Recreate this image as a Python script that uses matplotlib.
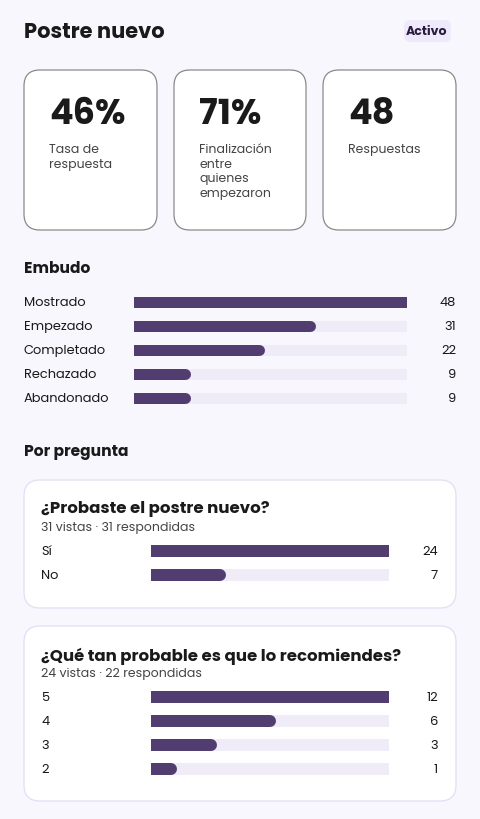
import matplotlib
matplotlib.use("Agg")
import matplotlib.pyplot as plt
from matplotlib.patches import FancyBboxPatch

plt.rcParams['font.family'] = ['Poppins', 'Lato', 'DejaVu Sans']

title = "Postre nuevo"
badge = "Activo"
stat_values = ["46%", "71%", "48"]
stat_labels = ["Tasa de\nrespuesta", "Finalización\nentre\nquienes\nempezaron", "Respuestas"]
funnel_labels = ["Mostrado", "Empezado", "Completado", "Rechazado", "Abandonado"]
funnel_values = [48, 31, 22, 9, 9]
q1_title = "¿Probaste el postre nuevo?"
q1_sub = "31 vistas · 31 respondidas"
q1_labels = ["Sí", "No"]
q1_values = [24, 7]
q2_title = "¿Qué tan probable es que lo recomiendes?"
q2_sub = "24 vistas · 22 respondidas"
q2_labels = ["5", "4", "3", "2"]
q2_values = [12, 6, 3, 1]

W, H = 480, 820
BG = "#f8f7fd"; BAR = "#523d70"; TRACK = "#efecf8"; DARK = "#1a1a1a"; GREY = "#444444"
fig = plt.figure(figsize=(W/100, H/100), dpi=100, facecolor=BG)
ax = fig.add_axes([0, 0, 1, 1]); ax.set_xlim(0, W); ax.set_ylim(H, 0); ax.axis('off')
px = lambda v: v*0.72

def card(x0, y0, x1, y1, r, ec, lw=0.9):
    ax.add_patch(FancyBboxPatch((x0+r, y0+r), x1-x0-2*r, y1-y0-2*r,
                 boxstyle=f"round,pad={r}", fc="white", ec=ec, lw=lw))

ax.text(24, 33, title, fontsize=px(21), fontweight='bold', color=DARK, va='center')
ax.add_patch(FancyBboxPatch((410, 27), 35, 10, boxstyle="round,pad=6", fc="#eeeafa", ec="none"))
ax.text(427, 32, badge, fontsize=px(12.5), fontweight='bold', color="#2a1c40", ha='center', va='center')

for i, (xs, xe) in enumerate([(24, 157), (174, 306), (323, 456)]):
    card(xs, 71, xe, 231, 16, "#8a8a8a")
    ax.text(xs+25, 116, stat_values[i], fontsize=px(35), fontweight='bold', color=DARK, va='center')
    ax.text(xs+25, 144, stat_labels[i], fontsize=px(12.5), color=GREY, va='top', linespacing=1.3)

def bars(labels, values, x_label, x0, x1, x_val, y_first, step, h):
    n = len(values); vmax = max(values)
    top = y_first - step/2; bot = y_first + step*(n-0.5)
    r = h/2
    bax = fig.add_axes([(x0+r)/W, 1-bot/H, (x1-x0-2*r)/W, (bot-top)/H])
    bax.set_xlim(0, vmax); bax.set_ylim(n-0.5, -0.5); bax.axis('off'); bax.patch.set_alpha(0)
    for i, v in enumerate(values):
        bax.plot([0, vmax], [i, i], color=TRACK, lw=px(h), solid_capstyle='round')
        bax.plot([0, v], [i, i], color=BAR, lw=px(h), solid_capstyle='round')
        yy = y_first + i*step
        ax.text(x_label, yy, labels[i], fontsize=px(13), color=DARK, va='center')
        ax.text(x_val, yy, str(v), fontsize=px(13), color=DARK, ha='right', va='center')

ax.text(24, 269, "Embudo", fontsize=px(15.5), fontweight='bold', color=DARK, va='center')
bars(funnel_labels, funnel_values, 24, 128, 412, 456, 303, 24, 11)

ax.text(24, 452, "Por pregunta", fontsize=px(15.5), fontweight='bold', color=DARK, va='center')
card(24, 481, 456, 609, 16, "#e6dcf3")
ax.text(41, 509, q1_title, fontsize=px(16.5), fontweight='bold', color=DARK, va='center')
ax.text(41, 528, q1_sub, fontsize=px(12.5), color=GREY, va='center')
bars(q1_labels, q1_values, 41, 145, 395, 438, 552, 24, 12)

card(24, 627, 456, 802, 16, "#e6dcf3")
ax.text(41, 656, q2_title, fontsize=px(16.5), fontweight='bold', color=DARK, va='center')
ax.text(41, 674, q2_sub, fontsize=px(12.5), color=GREY, va='center')
bars(q2_labels, q2_values, 41, 145, 395, 438, 698, 24, 12)

fig.savefig("out.png", dpi=100, facecolor=BG)
